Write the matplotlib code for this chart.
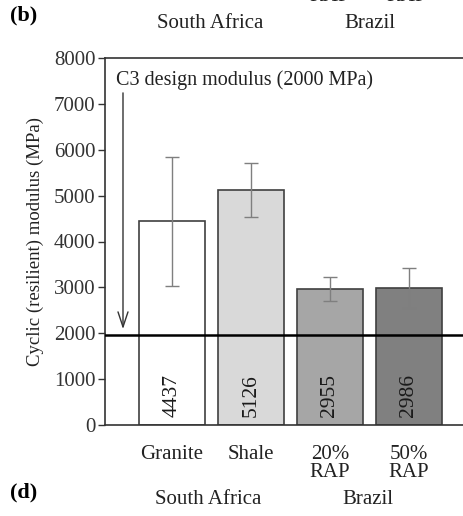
import numpy as np
import matplotlib.pyplot as plt

plt.rcParams['font.family'] = ['Liberation Serif', 'DejaVu Serif']

# Data
materials = ["Granite", "Shale", "20%\nRAP", "50%\nRAP"]
modulus = [4437, 5126, 2955, 2986]
err = [1410, 585, 262, 435]
bar_colors = ["#ffffff", "#d9d9d9", "#a6a6a6", "#808080"]
design_modulus = 1970

fig = plt.figure(figsize=(4.64, 5.16), dpi=100)
ax = fig.add_axes([105 / 464, 1 - 425 / 516, 1 - 105 / 464, (425 - 58) / 516])

x = np.arange(len(materials))
ax.bar(x, modulus, width=0.83, color=bar_colors, edgecolor="#404040", linewidth=1.2, zorder=2)
ax.errorbar(x, modulus, yerr=err, fmt="none", ecolor="#7f7f7f", elinewidth=1.0,
            capsize=5, capthick=1.0, zorder=3)

for xi, v in zip(x, modulus):
    ax.text(xi, 640, str(v), rotation=90, ha="center", va="center", fontsize=15.5, color="#1a1a1a", zorder=4)

ax.axhline(design_modulus, color="black", linewidth=1.8, zorder=4)
ax.annotate("", xy=(-0.62, design_modulus + 60), xytext=(-0.62, 7300),
            arrowprops=dict(arrowstyle="->,head_length=0.6,head_width=0.2", color="#333333", lw=1.0,
                            mutation_scale=18))
ax.text(-0.71, 7520, "C3 design modulus (2000 MPa)", ha="left", va="center", fontsize=14.5, color="#222222")

ax.set_xlim(-0.848, 3.70)
ax.set_ylim(0, 8000)
ax.set_yticks(range(0, 8001, 1000))
ax.set_xticks([])
ax.tick_params(axis="y", direction="out", length=5, labelsize=15, colors="#333333", width=1, pad=2)
for s in ["left", "bottom", "top"]:
    ax.spines[s].set_color("#333333")
    ax.spines[s].set_linewidth(1.2)
ax.spines["right"].set_visible(False)
ax.set_ylabel("Cyclic (resilient) modulus (MPa)", fontsize=13.5, color="#222222", labelpad=7)

for xi, lab in zip(x, materials):
    ax.text(xi, -430, lab, ha="center", va="top", fontsize=15, linespacing=0.95,
            color="#222222", transform=ax.transData, clip_on=False)

fig.text(10 / 464, 1 - 492 / 516, "(d)", fontsize=16, fontweight="bold", va="center", ha="left")
fig.text(208 / 464, 1 - 500 / 516, "South Africa", fontsize=15, ha="center", va="center", color="#222222")
fig.text(368 / 464, 1 - 500 / 516, "Brazil", fontsize=15, ha="center", va="center", color="#222222")

fig.text(10 / 464, 1 - 15 / 516, "(b)", fontsize=16, fontweight="bold", va="center", ha="left")
fig.text(210 / 464, 1 - 24 / 516, "South Africa", fontsize=15, ha="center", va="center", color="#222222")
fig.text(370 / 464, 1 - 24 / 516, "Brazil", fontsize=15, ha="center", va="center", color="#222222")
fig.text(330 / 464, 1 - 1 / 516, "RAP", fontsize=15, ha="center", va="baseline", color="#222222")
fig.text(407 / 464, 1 - 1 / 516, "RAP", fontsize=15, ha="center", va="baseline", color="#222222")

fig.savefig("out.png", dpi=100)
